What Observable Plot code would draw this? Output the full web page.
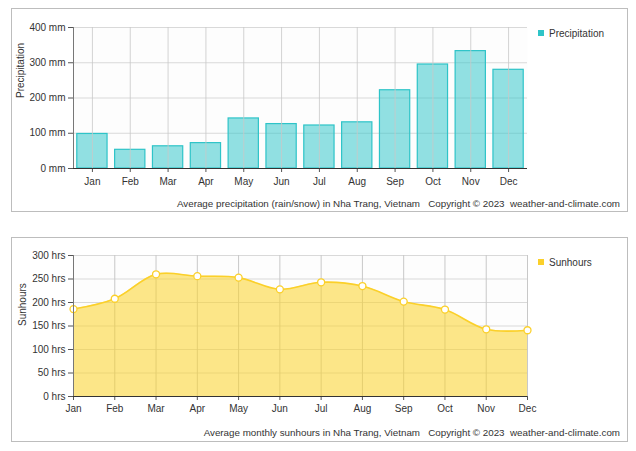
<!DOCTYPE html>
<html><head><meta charset="utf-8">
<script src="https://cdn.jsdelivr.net/npm/d3@7"></script>
<script src="https://cdn.jsdelivr.net/npm/@observablehq/plot@0.6"></script>
<style>
body{margin:0;background:#fff;font-family:"Liberation Sans",Arial,sans-serif;}
.box{position:absolute;left:11px;width:615px;border:1px solid #bdbdbd;background:#fff;}
.chart{position:absolute;left:0;}
.legend{position:absolute;font-size:10px;color:#333;white-space:nowrap;}
.legend span{display:inline-block;width:6px;height:6px;margin-right:5px;vertical-align:1px;}
.caption{position:absolute;right:16px;font-size:9.8px;color:#333;white-space:pre;}
</style>
</head><body>
<div class="box" style="top:8px;height:202px"></div>
<div class="box" style="top:237px;height:203px"></div>
<div id="c1" class="chart" style="top:0px"></div>
<div id="c2" class="chart" style="top:230px"></div>
<div class="legend" style="left:538px;top:28px"><span style="background:#2ec4c8"></span>Precipitation</div>
<div class="legend" style="left:538px;top:257px"><span style="background:#fbd02a"></span>Sunhours</div>
<div class="caption" style="top:198px">Average precipitation (rain/snow) in Nha Trang, Vietnam   Copyright © 2023  weather-and-climate.com</div>
<div class="caption" style="top:427px">Average monthly sunhours in Nha Trang, Vietnam   Copyright © 2023  weather-and-climate.com</div>
<script>
const months = ["Jan","Feb","Mar","Apr","May","Jun","Jul","Aug","Sep","Oct","Nov","Dec"];
const precipitation = [98,53,63,72,142,126,122,131,222,295,333,280];
const sunhours = [186,208,260,256,253,228,243,235,202,185,143,141];
const precipTicks = [0,100,200,300,400];
const sunTicks = [0,50,100,150,200,250,300];

const pData = months.map((m,i)=>({month:m, value:precipitation[i]}));
const sData = months.map((m,i)=>({month:m, value:sunhours[i]}));
const font = '"Liberation Sans", Arial, sans-serif';

const p1 = Plot.plot({
  width:636, height:220, marginLeft:73, marginRight:109, marginTop:27, marginBottom:52,
  style:{fontFamily:font, fontSize:"10px", color:"#333", background:"transparent", overflow:"visible"},
  x:{type:"band", domain:months, paddingInner:0.2, paddingOuter:0.1, round:false, label:null},
  y:{domain:[0,400], label:null},
  marks:[
    Plot.frame({fill:"#fdfdfd", stroke:null}),
    Plot.gridY(precipTicks, {stroke:"#d9d9d9", strokeOpacity:1}),
    Plot.barY(pData, {x:"month", y:"value", fill:"#26c4c8", fillOpacity:0.5, stroke:"#2ec4c8", strokeWidth:1.2}),
    Plot.gridX({stroke:"#c8c8c8", strokeOpacity:0.8}),
    Plot.axisY(precipTicks, {tickFormat:d=>d+" mm", tickSize:5, tickPadding:3, label:null, stroke:"#555"}),
    Plot.axisX({tickSize:4, tickPadding:5, label:null, stroke:"#555"}),
    Plot.frame({anchor:"left", stroke:"#777"}),
    Plot.ruleY([0], {stroke:"#333", strokeWidth:1.2}),
    Plot.text(["Precipitation"], {frameAnchor:"left", rotate:-90, dx:-53, fontSize:10, fill:"#333"})
  ]
});
document.getElementById("c1").appendChild(p1);

const p2 = Plot.plot({
  width:636, height:221, marginLeft:73, marginRight:109, marginTop:25, marginBottom:55,
  style:{fontFamily:font, fontSize:"10px", color:"#333", background:"transparent", overflow:"visible"},
  x:{type:"point", domain:months, padding:0, round:false, label:null},
  y:{domain:[0,300], label:null},
  marks:[
    Plot.frame({fill:"#fdfdfd", stroke:null}),
    Plot.gridY(sunTicks, {stroke:"#d9d9d9", strokeOpacity:1}),
    Plot.gridX({stroke:"#c8c8c8", strokeOpacity:1}),
    Plot.areaY(sData, {x:"month", y:"value", curve:"catmull-rom", fill:"rgb(251,211,40)", fillOpacity:0.55}),
    Plot.lineY(sData, {x:"month", y:"value", curve:"catmull-rom", stroke:"#fbd02a", strokeWidth:1.6}),
    Plot.dot(sData, {x:"month", y:"value", r:3.5, fill:"white", stroke:"#fbd02a", strokeWidth:1.3}),
    Plot.axisY(sunTicks, {tickFormat:d=>d+" hrs", tickSize:5, tickPadding:3, label:null, stroke:"#555"}),
    Plot.axisX({tickSize:4, tickPadding:4, label:null, stroke:"#555"}),
    Plot.frame({anchor:"left", stroke:"#777"}),
    Plot.ruleY([0], {stroke:"#333", strokeWidth:1.2}),
    Plot.text(["Sunhours"], {frameAnchor:"left", rotate:-90, dx:-51, fontSize:10, fill:"#333"})
  ]
});
document.getElementById("c2").appendChild(p2);
</script>
</body></html>
